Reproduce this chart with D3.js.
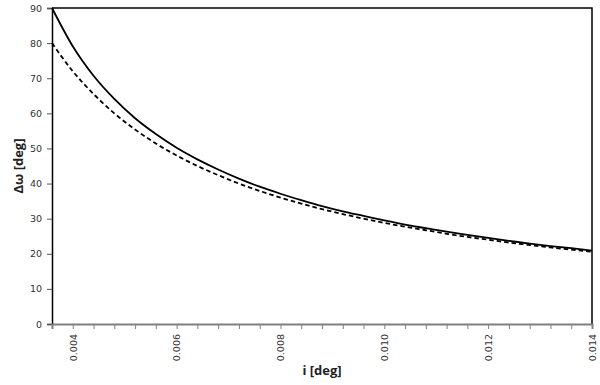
<!DOCTYPE html>
<html lang="en">
<head>
<meta charset="utf-8">
<title>Delta omega vs i</title>
<script src="https://d3js.org/d3.v7.min.js"></script>
<style>
  body { margin: 0; background: #fff; }
  .tick text { font-family: "DejaVu Sans", sans-serif; font-size: 9.5px; fill: #333; }
  .title { font-family: "Open Sans", sans-serif; font-weight: bold; font-size: 13px; fill: #222; }
</style>
</head>
<body>
<svg id="chart" width="600" height="385"></svg>
<script>
// inclination [deg]
var incl = [0.0036, 0.0040, 0.0044, 0.0048, 0.0052, 0.0056, 0.0060, 0.0064, 0.0068,
            0.0072, 0.0076, 0.0080, 0.0084, 0.0088, 0.0092, 0.0096, 0.0100, 0.0104,
            0.0108, 0.0112, 0.0116, 0.0120, 0.0124, 0.0128, 0.0132, 0.0136, 0.0140];
// solid curve
var solid = [90.0, 79.1, 70.7, 64.1, 58.6, 54.1, 50.2, 46.9, 44.0,
             41.4, 39.1, 37.1, 35.3, 33.6, 32.1, 30.8, 29.5, 28.3,
             27.3, 26.3, 25.4, 24.5, 23.7, 22.9, 22.2, 21.6, 20.9];
// dashed curve
var dashed = [80.0, 72.0, 65.5, 60.0, 55.4, 51.4, 48.0, 45.0, 42.4,
              40.0, 37.9, 36.0, 34.3, 32.7, 31.3, 30.0, 28.8, 27.7,
              26.7, 25.7, 24.8, 24.0, 23.2, 22.5, 21.8, 21.2, 20.6];
var xLabels = ["0.004", "0.006", "0.008", "0.010", "0.012", "0.014"];
var yTicks = [0, 10, 20, 30, 40, 50, 60, 70, 80, 90];

var svg = d3.select("#chart");
// plot box (note: "top" is reserved on window, so use other names)
var mLeft = 52, mRight = 592, mTop = 8, mBottom = 324;

var x = d3.scaleLinear().domain([0.0036, 0.014]).range([mLeft, mRight]);
var y = d3.scaleLinear().domain([0, 90]).range([mBottom, mTop]);

// plot border (top and right)
svg.append("path")
  .attr("d", "M" + mLeft + "," + mTop + "H" + mRight + "V" + mBottom)
  .attr("fill", "none").attr("stroke", "#000").attr("stroke-width", 1.5);

// y axis
var yAxis = svg.append("g")
  .attr("transform", "translate(" + mLeft + ",0)")
  .call(d3.axisLeft(y).tickValues(yTicks).tickSize(5).tickPadding(5).tickFormat(d3.format("d")));
yAxis.select(".domain").attr("stroke", "#000").attr("stroke-width", 1.5);
yAxis.selectAll(".tick line").attr("stroke", "#555");

// x axis: minor ticks every 0.0004, labels every 0.002
var xAxis = svg.append("g")
  .attr("transform", "translate(0," + mBottom + ")")
  .call(d3.axisBottom(x).tickValues(incl).tickSize(5).tickFormat(function (d) {
    var s = d.toFixed(3);
    return xLabels.indexOf(s) >= 0 && Math.abs(d * 1000 - Math.round(d * 1000)) < 1e-6 ? s : "";
  }));
xAxis.select(".domain").attr("stroke", "#808080").attr("stroke-width", 2);
xAxis.selectAll(".tick line").attr("stroke", "#808080");
xAxis.selectAll(".tick text")
  .attr("transform", "rotate(-90)")
  .attr("text-anchor", "end")
  .attr("x", -10)
  .attr("y", 0)
  .attr("dy", "0.35em");

// curves
var line = function (vals) {
  return d3.line()
    .x(function (d, i) { return x(incl[i]); })
    .y(function (d) { return y(d); })
    .curve(d3.curveMonotoneX)(vals);
};
svg.append("path").attr("d", line(dashed))
  .attr("fill", "none").attr("stroke", "#000").attr("stroke-width", 1.8)
  .attr("stroke-dasharray", "4.5,3");
svg.append("path").attr("d", line(solid))
  .attr("fill", "none").attr("stroke", "#000").attr("stroke-width", 1.8);

// axis titles
svg.append("text").attr("class", "title")
  .attr("x", 322).attr("y", 375).attr("text-anchor", "middle")
  .text("i [deg]");
svg.append("text").attr("class", "title")
  .attr("transform", "translate(23,166) rotate(-90)")
  .attr("text-anchor", "middle")
  .text("Δω [deg]");
</script>
</body>
</html>
